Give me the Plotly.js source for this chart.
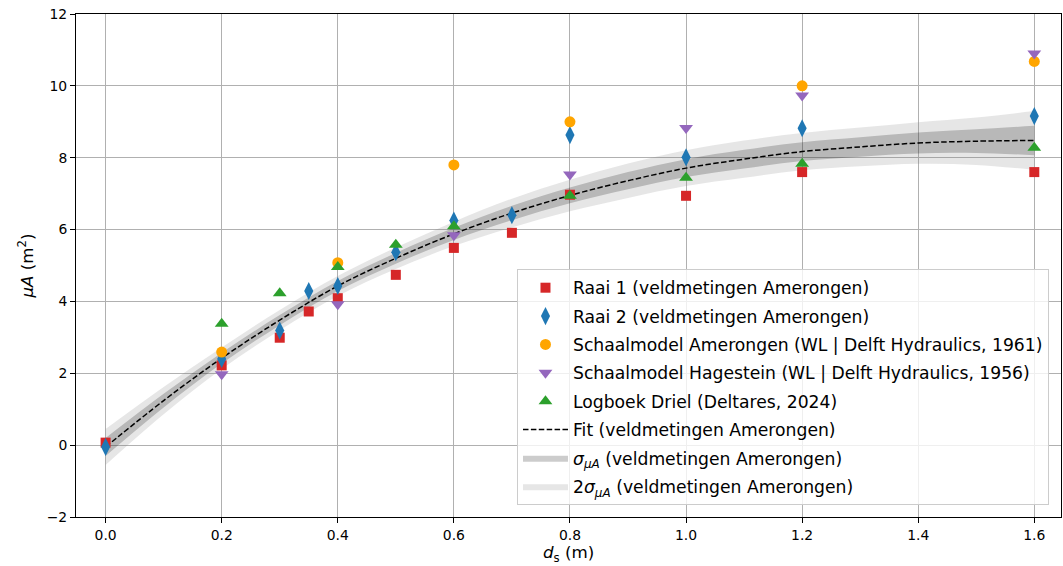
<!DOCTYPE html>
<html>
<head>
<meta charset="utf-8">
<script src="https://cdn.plot.ly/plotly-3.0.1.min.js"></script>
<style>html,body{margin:0;padding:0;background:#fff;}#chart{width:1063px;height:566px;}</style>
</head>
<body>
<div id="chart"></div>
<script>
// ---- data ----
const raai1X = [0.0, 0.2, 0.3, 0.35, 0.4, 0.5, 0.6, 0.7, 0.8, 1.0, 1.2, 1.6];
const raai1Y = [0.07, 2.22, 2.99, 3.72, 4.09, 4.74, 5.49, 5.91, 6.97, 6.94, 7.60, 7.60];

const raai2X = [0.0, 0.2, 0.3, 0.35, 0.4, 0.5, 0.6, 0.7, 0.8, 1.0, 1.2, 1.6];
const raai2Y = [-0.05, 2.40, 3.19, 4.29, 4.43, 5.37, 6.25, 6.40, 8.63, 8.01, 8.82, 9.16];

const amerX = [0.2, 0.4, 0.6, 0.8, 1.2, 1.6];
const amerY = [2.59, 5.08, 7.80, 9.00, 10.00, 10.68];

const hageX = [0.2, 0.4, 0.6, 0.8, 1.0, 1.2, 1.6];
const hageY = [1.97, 3.92, 5.84, 7.53, 8.83, 9.73, 10.90];

const drielX = [0.2, 0.3, 0.4, 0.5, 0.6, 0.8, 1.0, 1.2, 1.6];
const drielY = [3.38, 4.23, 4.96, 5.58, 6.09, 6.94, 7.44, 7.83, 8.28];

const fitX = [0.0, 0.1, 0.2, 0.3, 0.4, 0.5, 0.6, 0.7, 0.8, 0.9, 1.0, 1.1, 1.2, 1.3, 1.4, 1.5, 1.6];
const fitY = [-0.05, 1.24, 2.42, 3.48, 4.43, 5.20, 5.88, 6.46, 6.95, 7.36, 7.71, 7.96, 8.17, 8.30, 8.41, 8.46, 8.48];
const sigma = [0.25, 0.19, 0.15, 0.14, 0.14, 0.15, 0.17, 0.20, 0.22, 0.24, 0.25, 0.26, 0.26, 0.27, 0.29, 0.33, 0.41];

const xTicks = [0.0, 0.2, 0.4, 0.6, 0.8, 1.0, 1.2, 1.4, 1.6];
const xTickText = ["0.0", "0.2", "0.4", "0.6", "0.8", "1.0", "1.2", "1.4", "1.6"];
const yTicks = [-2, 0, 2, 4, 6, 8, 10, 12];

// ---- build ----
const FONT = "DejaVu Sans, Liberation Sans, sans-serif";
const up1 = fitY.map((v, i) => v + sigma[i]);
const lo1 = fitY.map((v, i) => v - sigma[i]);
const up2 = fitY.map((v, i) => v + 2 * sigma[i]);
const lo2 = fitY.map((v, i) => v - 2 * sigma[i]);

const label = "(veldmetingen Amerongen)";
const traces = [
  {x: fitX, y: lo2, mode: "lines", line: {width: 0, shape: "spline"}, showlegend: false, hoverinfo: "skip", legendgroup: "g8", legendrank: 8},
  {x: fitX, y: up2, mode: "lines", line: {width: 0, shape: "spline"}, fill: "tonexty", fillcolor: "rgba(128,128,128,0.2)",
   name: "2<i>σ</i><sub><i>μA</i></sub> " + label, legendgroup: "g8", legendrank: 8},
  {x: fitX, y: lo1, mode: "lines", line: {width: 0, shape: "spline"}, showlegend: false, hoverinfo: "skip", legendgroup: "g7", legendrank: 7},
  {x: fitX, y: up1, mode: "lines", line: {width: 0, shape: "spline"}, fill: "tonexty", fillcolor: "rgba(0,0,0,0.2)",
   name: "<i>σ</i><sub><i>μA</i></sub> " + label, legendgroup: "g7", legendrank: 7},
  {x: fitX, y: fitY, mode: "lines", line: {color: "black", width: 1.5, dash: "5.5px,2.4px", shape: "spline"},
   name: "Fit " + label, legendgroup: "g6", legendrank: 6},
  {x: raai1X, y: raai1Y, mode: "markers", marker: {symbol: "square", size: 10, color: "#d62728"},
   name: "Raai 1 " + label, legendgroup: "g1", legendrank: 1},
  {x: raai2X, y: raai2Y, mode: "markers", marker: {symbol: "diamond-tall", size: 13, color: "#1f77b4"},
   name: "Raai 2 " + label, legendgroup: "g2", legendrank: 2},
  {x: amerX, y: amerY, mode: "markers", marker: {symbol: "circle", size: 11, color: "#ffa500"},
   name: "Schaalmodel Amerongen (WL | Delft Hydraulics, 1961)", legendgroup: "g3", legendrank: 3},
  {x: hageX, y: hageY, mode: "markers", marker: {symbol: "triangle-down", size: 12, color: "#9467bd"},
   name: "Schaalmodel Hagestein (WL | Delft Hydraulics, 1956)", legendgroup: "g4", legendrank: 4},
  {x: drielX, y: drielY, mode: "markers", marker: {symbol: "triangle-up", size: 12, color: "#2ca02c"},
   name: "Logboek Driel (Deltares, 2024)", legendgroup: "g5", legendrank: 5}
];

const axisCommon = {
  showline: true, mirror: true, linecolor: "black", linewidth: 1,
  showgrid: true, gridcolor: "#b0b0b0", gridwidth: 1, zeroline: false,
  ticks: "outside", ticklen: 5, tickcolor: "black", tickwidth: 1,
  tickfont: {family: FONT, size: 13.9, color: "black"}
};

const layout = {
  width: 1063, height: 566,
  margin: {l: 76, r: 2, t: 14, b: 49},
  paper_bgcolor: "white", plot_bgcolor: "white",
  font: {family: FONT, color: "black"},
  showlegend: true,
  xaxis: Object.assign({}, axisCommon, {
    range: [-0.051, 1.646], tickvals: xTicks, ticktext: xTickText
  }),
  yaxis: Object.assign({}, axisCommon, {
    range: [-2, 12], tickvals: yTicks,
    title: {text: "<i>μA</i> (m<sup>2</sup>)", font: {family: FONT, size: 16.7, color: "black"}, standoff: 8}
  }),
  annotations: [{
    text: "<i>d</i><sub>s</sub> (m)", xref: "paper", yref: "paper", x: 0.5, y: -0.073,
    xanchor: "center", yanchor: "middle", showarrow: false,
    font: {family: FONT, size: 16.7, color: "black"}
  }],
  legend: {
    x: 0.4477, y: 0.493, xanchor: "left", yanchor: "top",
    bgcolor: "rgba(255,255,255,0.8)", bordercolor: "#cccccc", borderwidth: 1,
    font: {family: FONT, size: 17.2, color: "black"},
    tracegroupgap: 3, itemwidth: 45, traceorder: "grouped"
  }
};

Plotly.newPlot("chart", traces, layout, {displayModeBar: false, staticPlot: true});
</script>
</body>
</html>
